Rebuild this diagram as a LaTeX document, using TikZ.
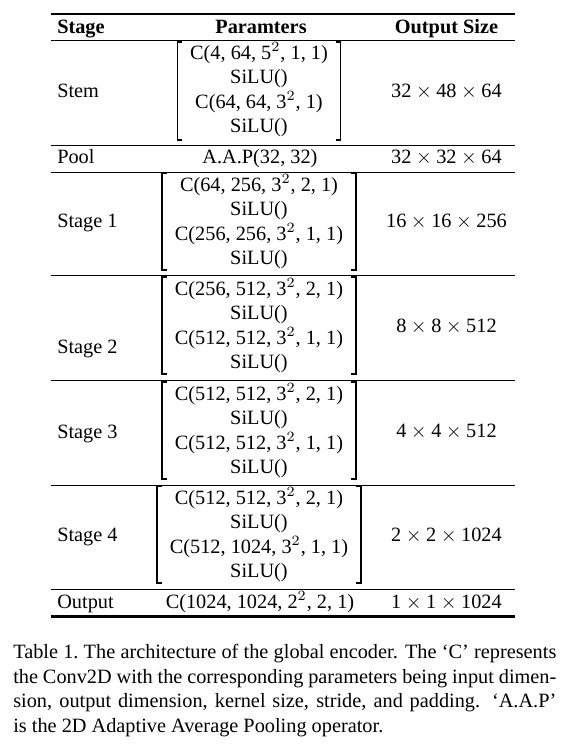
\documentclass[tikz,border=0pt]{standalone}
\usepackage{fontspec}
\setmainfont{Liberation Serif}
\usetikzlibrary{calc}
\newcommand\tms{${}\times{}$}
\newcommand\sq[1]{$^{#1}$}
\newcommand\capw{267.5pt}
% name, widest row node, top y, bottom y
\newcommand\mkbrk[4]{%
  \coordinate (#1t) at (0,#3);
  \coordinate (#1b) at (0,#4);
  \coordinate (#1L) at ($(#2.west)+(-13,0)$);
  \coordinate (#1R) at ($(#2.east)+(13,0)$);
  \coordinate (#1LT) at (#1L |- #1t);
  \coordinate (#1LB) at (#1L |- #1b);
  \coordinate (#1RT) at (#1R |- #1t);
  \coordinate (#1RB) at (#1R |- #1b);
  \draw[brk] ([xshift=2.5pt]#1LT) -- (#1LT) -- (#1LB) -- ([xshift=2.5pt]#1LB);
  \draw[brk] ([xshift=-2.5pt]#1RT) -- (#1RT) -- (#1RB) -- ([xshift=-2.5pt]#1RB);
}
\begin{document}
\begin{tikzpicture}[x=0.4926pt,y=-0.4926pt,
  every node/.style={inner sep=0pt,outer sep=0pt,font=\fontsize{10pt}{12pt}\selectfont},
  lbl/.style={anchor=base west},
  mid/.style={anchor=base},
  hdr/.style={anchor=base,font=\fontsize{10pt}{12pt}\selectfont\bfseries},
  capline/.style={anchor=base west},
  brk/.style={line width=0.65pt,line cap=butt,line join=miter},
  toprl/.style={line width=1pt},
  thinrl/.style={line width=0.5pt}]
\useasboundingbox (0,0) rectangle (564,745);

% rules
\draw[toprl] (51,14.3) -- (515,14.3);
\draw[thinrl] (51,40.5) -- (515,40.5);
\draw[thinrl] (51,145.5) -- (515,145.5);
\draw[thinrl] (51,172) -- (515,172);
\draw[thinrl] (51,275.5) -- (515,275.5);
\draw[thinrl] (51,380.7) -- (515,380.7);
\draw[thinrl] (51,485) -- (515,485);
\draw[thinrl] (51,589.5) -- (515,589.5);
\draw[toprl] (51,616.5) -- (515,616.5);

% header
\node[hdr,anchor=base west] (hs) at (57.3,33) {Stage};
\node[hdr] (hp) at (261,33) {Paramters};
\node[hdr] (ho) at (446.5,33) {Output Size};

% Stem
\node[lbl] (stem) at (57.3,97) {Stem};
\node[mid] (sta) at (259,59) {C(4, 64, 5\sq2, 1, 1)};
\node[mid] (stb) at (259,83.5) {SiLU()};
\node[mid] (stc) at (259,108) {C(64, 64, 3\sq2, 1)};
\node[mid] (std) at (259,132.5) {SiLU()};
\node[mid] (sto) at (446.5,97) {32\tms48\tms64};
\mkbrk{bst}{sta}{42}{140}

% Pool
\node[lbl] (pool) at (57.3,163) {Pool};
\node[mid] (poolp) at (260,163) {A.A.P(32, 32)};
\node[mid] (poolo) at (446.5,163) {32\tms32\tms64};

% Stage 1
\node[lbl] (s1) at (57.3,227) {Stage 1};
\node[mid] (s1a) at (259,191) {C(64, 256, 3\sq2, 2, 1)};
\node[mid] (s1b) at (259,215.5) {SiLU()};
\node[mid] (s1c) at (259,240) {C(256, 256, 3\sq2, 1, 1)};
\node[mid] (s1d) at (259,264.5) {SiLU()};
\node[mid] (s1o) at (446.5,227) {16\tms16\tms256};
\mkbrk{bsa}{s1c}{173}{270}

% Stage 2
\node[lbl] (s2) at (57.3,353) {Stage 2};
\node[mid] (s2a) at (259,295) {C(256, 512, 3\sq2, 2, 1)};
\node[mid] (s2b) at (259,319.5) {SiLU()};
\node[mid] (s2c) at (259,344) {C(512, 512, 3\sq2, 1, 1)};
\node[mid] (s2d) at (259,368.5) {SiLU()};
\node[mid] (s2o) at (446.5,332) {8\tms8\tms512};
\mkbrk{bsb}{s2c}{277}{374}

% Stage 3
\node[lbl] (s3) at (57.3,438) {Stage 3};
\node[mid] (s3a) at (259,400) {C(512, 512, 3\sq2, 2, 1)};
\node[mid] (s3b) at (259,424.5) {SiLU()};
\node[mid] (s3c) at (259,449) {C(512, 512, 3\sq2, 1, 1)};
\node[mid] (s3d) at (259,473.5) {SiLU()};
\node[mid] (s3o) at (446.5,437) {4\tms4\tms512};
\mkbrk{bsc}{s3c}{382}{479}

% Stage 4
\node[lbl] (s4) at (57.3,541) {Stage 4};
\node[mid] (s4a) at (259,504) {C(512, 512, 3\sq2, 2, 1)};
\node[mid] (s4b) at (259,528.5) {SiLU()};
\node[mid] (s4c) at (259,553) {C(512, 1024, 3\sq2, 1, 1)};
\node[mid] (s4d) at (259,577.5) {SiLU()};
\node[mid] (s4o) at (446.5,541) {2\tms2\tms1024};
\mkbrk{bsd}{s4c}{486}{583}

% Output
\node[lbl] (out) at (57.3,608) {Output};
\node[mid] (outp) at (260,608) {C(1024, 1024, 2\sq2, 2, 1)};
\node[mid] (outo) at (446.5,608) {1\tms1\tms1024};

% caption
\node[capline] (c1) at (13.3,658.3) {\makebox[\capw][s]{Table 1.\ The architecture of the global encoder. The `C' represents}};
\node[capline] (c2) at (13.3,683.1) {\makebox[\capw][s]{the Conv2D with the corresponding parameters being input dimen-}};
\node[capline] (c3) at (13.3,707.9) {\makebox[\capw][s]{sion, output dimension, kernel size, stride, and padding.  `A.A.P'}};
\node[capline] (c4) at (13.3,732.7) {is the 2D Adaptive Average Pooling operator.};
\end{tikzpicture}
\end{document}
